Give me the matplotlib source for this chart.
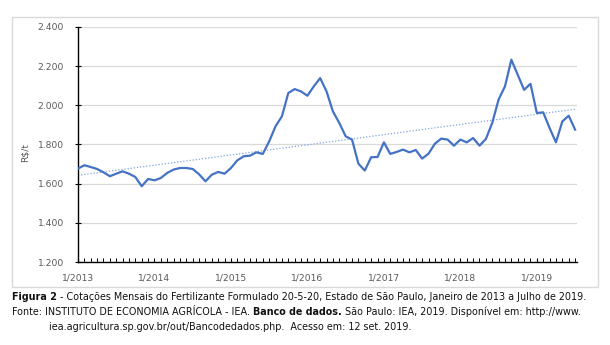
import numpy as np
import matplotlib
matplotlib.use("Agg")
from matplotlib import pyplot as plt
from matplotlib.patches import Rectangle

# cotações mensais (R$/t), jan/2013 a jul/2019
precos = [1677, 1694, 1685, 1675, 1658, 1638, 1651, 1663, 1651, 1634, 1587, 1624,
          1617, 1629, 1655, 1672, 1680, 1680, 1675, 1648, 1612, 1646, 1660, 1651,
          1680, 1719, 1740, 1743, 1760, 1752, 1816, 1893, 1944, 2063, 2083, 2071,
          2049, 2097, 2139, 2071, 1969, 1910, 1842, 1825, 1702, 1667, 1735, 1736,
          1811, 1752, 1762, 1774, 1760, 1772, 1728, 1753, 1804, 1830, 1825, 1794,
          1825, 1811, 1833, 1794, 1828, 1910, 2030, 2097, 2233, 2156, 2079, 2110,
          1961, 1964, 1884, 1811, 1918, 1947, 1876]
anos = ["1/2013", "1/2014", "1/2015", "1/2016", "1/2017", "1/2018", "1/2019"]
y_ticks = [1200, 1400, 1600, 1800, 2000, 2200, 2400]

W, H = 610, 345
fig = plt.figure(figsize=(W / 100, H / 100), dpi=100)
fig.patch.set_facecolor("white")

# moldura do gráfico
fig.patches.append(Rectangle((12 / W, 1 - 287 / H), 586 / W, 270 / H,
                             transform=fig.transFigure, fill=False,
                             edgecolor="#D9D9D9", linewidth=1))

ax = fig.add_axes([78 / W, 1 - 262 / H, 499 / W, 235 / H])
x = np.arange(len(precos))
ax.plot(x, precos, color="#4472C4", linewidth=1.6, solid_joinstyle="round", zorder=3)

# tendência linear
a, b = np.polyfit(x, precos, 1)
ax.plot(x, a * x + b, color="#7EA6DA", linewidth=0.9, linestyle=(0, (1, 1.5)), zorder=2)

ax.set_xlim(0, len(precos) - 0.7)
ax.set_ylim(y_ticks[0], y_ticks[-1])
ax.set_yticks(y_ticks)
ax.set_yticklabels([f"{v:,}".replace(",", ".") for v in y_ticks])
ax.set_xticks(np.arange(len(anos)) * 12)
ax.set_xticklabels(anos)
ax.set_xticks(x, minor=True)

ax.grid(axis="y", color="#D9D9D9", linewidth=0.9)
ax.set_axisbelow(True)
for s in ["top", "right"]:
    ax.spines[s].set_visible(False)
for s in ["left", "bottom"]:
    ax.spines[s].set_color("#000000")
    ax.spines[s].set_linewidth(1.0)

ax.tick_params(axis="y", direction="inout", length=4, width=0.8, pad=8,
               labelsize=6.6, labelcolor="#595959", color="#000000")
ax.tick_params(axis="x", which="major", direction="in", length=3, width=0.8, pad=8,
               labelsize=6.6, labelcolor="#595959", color="#000000")
ax.tick_params(axis="x", which="minor", direction="in", length=3, width=0.7,
               color="#000000")
ax.set_ylabel("R$/t", fontsize=6.6, color="#595959")
ax.yaxis.set_label_coords(30 / W, 1 - 152 / H, transform=fig.transFigure)

# legenda da figura, com trechos em negrito
renderer = fig.canvas.get_renderer()


def linha(x0, y0, partes, size=6.95):
    xp = x0
    for txt, peso in partes:
        t = fig.text(xp / W, 1 - y0 / H, txt, fontsize=size, fontweight=peso,
                     color="#111111", va="center", ha="left")
        bb = t.get_window_extent(renderer)
        xp += bb.width


linha(12, 297, [("Figura 2", "bold"),
                (" - Cotações Mensais do Fertilizante Formulado 20-5-20, Estado de São Paulo, "
                 "Janeiro de 2013 a Julho de 2019.", "normal")])
linha(12, 312, [("Fonte: INSTITUTO DE ECONOMIA AGRÍCOLA - IEA. ", "normal"),
                ("Banco de dados.", "bold"),
                (" São Paulo: IEA, 2019. Disponível em: http://www.", "normal")])
linha(49, 327, [("iea.agricultura.sp.gov.br/out/Bancodedados.php.  Acesso em: 12 set. 2019.",
                 "normal")])

fig.savefig("out.png", dpi=100)
